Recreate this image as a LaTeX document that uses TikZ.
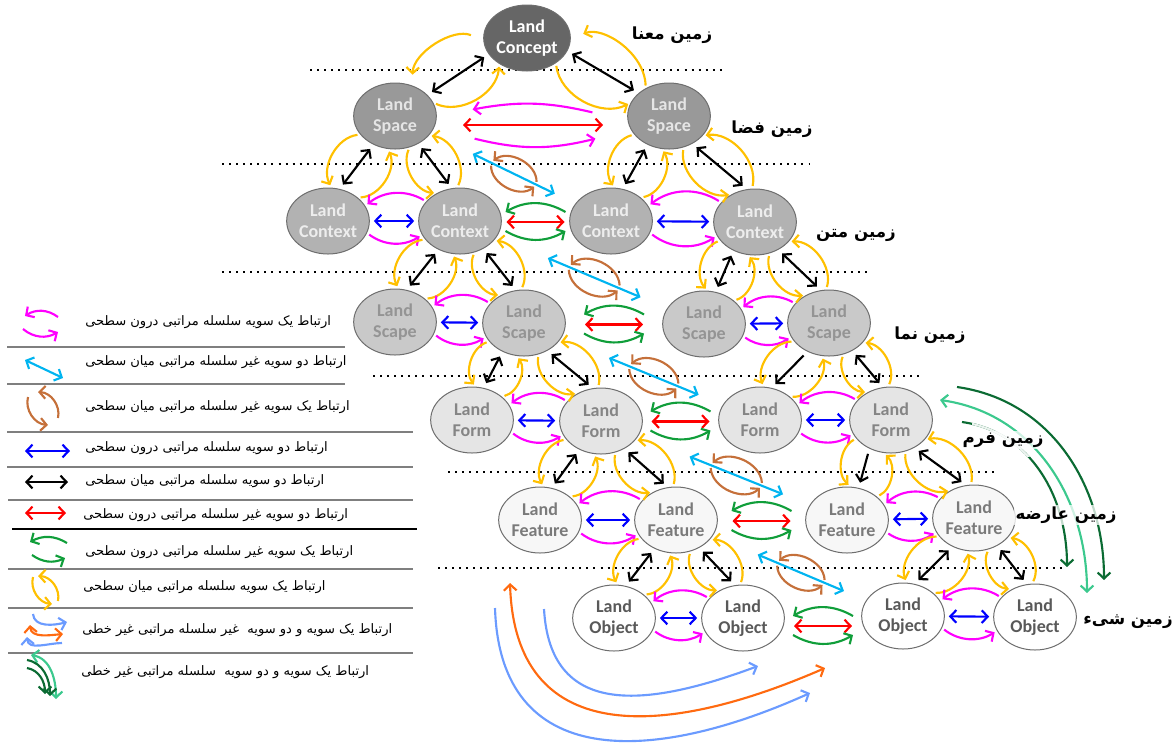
\documentclass[tikz,border=0pt]{standalone}
\usepackage{fontspec}
\setmainfont{Carlito}
\newfontfamily\farsi[Script=Arabic]{DejaVu Sans}
\TeXXeTstate=1
\usetikzlibrary{arrows.meta,calc,positioning,shapes.geometric}

\definecolor{cYel}{HTML}{FFC000}
\definecolor{cMag}{HTML}{FF00FF}
\definecolor{cBlu}{HTML}{0000FF}
\definecolor{cRed}{HTML}{FF0000}
\definecolor{cGrn}{HTML}{109E3A}
\definecolor{cCya}{HTML}{00B4F0}
\definecolor{cBrn}{HTML}{C5703A}
\definecolor{cOrg}{HTML}{FF6A10}
\definecolor{cLbl}{HTML}{6B9BFF}
\definecolor{cDgr}{HTML}{0B6B33}
\definecolor{cLgr}{HTML}{3CC98E}
\definecolor{cBrd}{HTML}{6E6E6E}
\definecolor{cSep}{HTML}{7F7F7F}

\tikzset{
  land/.style={ellipse, draw=cBrd, line width=0.75pt, minimum width=62pt,
    minimum height=49.5pt, inner sep=0pt, align=center,
    font=\fontsize{13.5}{16}\selectfont\bfseries},
  l0/.style={fill=black!60, text=white},
  l1/.style={fill=black!40, text=black!10},
  l2/.style={fill=black!30, text=black!7},
  l3/.style={fill=black!21, text=black!42},
  l4/.style={fill=black!10, text=black!48},
  l5/.style={fill=black!3, text=black!52},
  l6/.style={fill=white, text=black!65},
  lk/.style={line width=1.6pt, >={Straight Barb[length=4.5pt,width=9.5pt]}},
  dbl/.style={<->}, sgl/.style={->},
  leg/.style={shorten >=0pt, shorten <=0pt},
  blk/.style={lk, draw=black, shorten >=4pt, shorten <=4pt},
  ylw/.style={lk, draw=cYel, ->, bend right=55, shorten >=2pt, shorten <=2pt},
  mag/.style={lk, draw=cMag, ->, bend right=35, shorten >=2pt, shorten <=2pt},
  blu/.style={lk, draw=cBlu, <->, shorten >=3pt, shorten <=3pt},
  grn/.style={lk, draw=cGrn, ->, bend right=30},
  rd/.style={lk, draw=cRed, <->},
  cya/.style={lk, draw=cCya, <->},
  brn/.style={lk, draw=cBrn, ->, bend right=65},
  lbl/.style={lk, draw=cLbl, ->},
  org/.style={lk, draw=cOrg, <->},
  dgr/.style={lk, draw=cDgr, ->},
  lgr/.style={lk, draw=cLgr, <->},
  dots/.style={line width=1.5pt, dash pattern=on 1.5pt off 3.8pt},
  sep/.style={draw=cSep, line width=1.1pt},
  legtxt/.style={anchor=west, inner sep=0pt, font=\farsi\fontsize{9.8}{12}\selectfont},
  lvltxt/.style={inner sep=1pt, fill=white, fill opacity=0.75, text opacity=1,
    font=\farsi\bfseries\fontsize{12.5}{14}\selectfont},
}

\begin{document}
\begin{tikzpicture}[x=0.75pt,y=-0.75pt]
\useasboundingbox (0,0) rectangle (1176,744);

% level borders
\draw[dots] (310,70) -- (722,70);
\draw[dots] (222,164) -- (809,164);
\draw[dots] (222,272) -- (867,272);
\draw[dots] (373,376) -- (923,376);
\draw[dots] (448,472) -- (997,472);
\draw[dots] (438,568) -- (1062,568);

\begin{scope}[every node/.style={land}]
  \node[l0] (C) at (527,38) {Land\\Concept};
  \node[l1] (S1) at (395,116) {Land\\Space};
  \node[l1] (S2) at (669,116) {Land\\Space};
  \node[l2] (X1) at (328,221) {Land\\Context};
  \node[l2] (X2) at (460,221) {Land\\Context};
  \node[l2] (X3) at (611,221) {Land\\Context};
  \node[l2] (X4) at (755,222) {Land\\Context};
  \node[l3] (P1) at (395,322) {Land\\Scape};
  \node[l3] (P2) at (524,323) {Land\\Scape};
  \node[l3] (P3) at (704,324) {Land\\Scape};
  \node[l3] (P4) at (829,323) {Land\\Scape};
  \node[l4] (F1) at (472,420) {Land\\Form};
  \node[l4] (F2) at (601,421) {Land\\Form};
  \node[l4] (F3) at (760,420) {Land\\Form};
  \node[l4] (F4) at (891,420) {Land\\Form};
  \node[l5] (E1) at (540,520) {Land\\Feature};
  \node[l5] (E2) at (676,520) {Land\\Feature};
  \node[l5] (E3) at (847,520) {Land\\Feature};
  \node[l5] (E4) at (974,518) {Land\\Feature};
  \node[l6] (O1) at (614,618) {Land\\Object};
  \node[l6] (O2) at (743,618) {Land\\Object};
  \node[l6] (O3) at (903,616) {Land\\Object};
  \node[l6] (O4) at (1035,617) {Land\\Object};
\end{scope}

% concept to space
\path (C.203) edge[blk,dbl] (S1.33)
      (C.183) edge[ylw, shorten <=10pt, shorten >=8pt] (S1.61)
      (S1.19) edge[ylw] (C.223)
      (C.342) edge[blk,dbl] (S2.143)
      (C.319) edge[ylw] (S2.161)
      (S2.130) edge[ylw, shorten >=10pt] (C.359);

% parent to children, siblings
\foreach \p/\l/\r/\bk in {S1/X1/X2/dbl, S2/X3/X4/dbl, X2/P1/P2/dbl, X4/P3/P4/dbl,
    P2/F1/F2/dbl, P4/F3/F4/sgl, F2/E1/E2/dbl, F4/E3/E4/sgl, E2/O1/O2/dbl, E4/O3/O4/dbl}{
  \path (\p.233) edge[blk,\bk] (\l.70)
        (\p.310) edge[blk,dbl] (\r.104)
        (\p.208) edge[ylw] (\l.84)
        (\l.38) edge[ylw] (\p.258)
        (\p.295) edge[ylw] (\r.130)
        (\r.95) edge[ylw] (\p.330);
  \path (\r.150) edge[mag] (\l.22)
        (\l) edge[blu] (\r)
        (\l.343) edge[mag] (\r.200);
}

% between groups
\path ($(S1)!.5!(S2)+(63,-3)$) edge[mag, bend right=12] ($(S1)!.5!(S2)+(-62,-6)$)
      ($(S1)!.5!(S2)+(-69,9)$) edge[rd] ($(S1)!.5!(S2)+(71,9)$)
      ($(S1)!.5!(S2)+(-60,22)$) edge[mag, bend right=14] ($(S1)!.5!(S2)+(66,22)$);
\foreach \a/\b/\dy in {X2/X3/0, P2/P3/0, F2/F3/0, E2/E3/0, O2/O3/8}{
  \path ($(\a)!.5!(\b)+(30,-9+\dy)$) edge[grn] ($(\a)!.5!(\b)+(-30,-9+\dy)$)
        ($(\a)!.5!(\b)+(-29,1+\dy)$) edge[rd] ($(\a)!.5!(\b)+(29,1+\dy)$)
        ($(\a)!.5!(\b)+(-30,10+\dy)$) edge[grn] ($(\a)!.5!(\b)+(30,10+\dy)$);
}

% across groups and levels
\foreach \a/\b in {S1/X3, X2/P3, P2/F3, F2/E3, E2/O3}{
  \path ($(\a)!.36!(\b)$) edge[cya] ($(\a)!.74!(\b)$)
        ($(\a)!.65!(\b)!2pt!90:(\b)$) edge[brn] ($(\a)!.45!(\b)!2pt!90:(\b)$)
        ($(\a)!.45!(\b)!2pt!-90:(\b)$) edge[brn] ($(\a)!.65!(\b)!2pt!-90:(\b)$);
}

% non linear
\coordinate (g1) at (957,387);  \coordinate (g2) at (1104,580);
\coordinate (g3) at (940,400);  \coordinate (g4) at (1087,593);
\coordinate (g5) at (962,422);  \coordinate (g6) at (1067,567);
\path (g1) edge[dgr, out=-8, in=90] (g2)
      (g3) edge[lgr, out=-8, in=90] (g4)
      (g5) edge[dgr, out=-8, in=90] (g6);
\begin{scope}
  \clip (972,400) rectangle (1048,456);
  \path (g5) edge[lk, draw=cDgr!8, out=-8, in=90] (g6);
\end{scope}
\coordinate (b1) at (495,608);  \coordinate (b2) at (810,693);
\coordinate (b3) at (510,583);  \coordinate (b4) at (825,668);
\coordinate (b5) at (544,609);  \coordinate (b6) at (758,666);
\draw[lbl] (b1) .. controls (500,770) and (650,765) .. (b2);
\draw[org] (b3) .. controls (515,745) and (660,740) .. (b4);
\draw[lbl] (b5) .. controls (550,715) and (640,710) .. (b6);

\begin{scope}[every node/.style={lvltxt}]
  \node (lv0) at (672,35) {\beginR زمین معنا\endR};
  \node (lv1) at (772,129) {\beginR زمین فضا\endR};
  \node (lv2) at (856,235) {\beginR زمین متن\endR};
  \node (lv3) at (930,335) {\beginR زمین نما\endR};
  \node (lv4) at (1003,440) {\beginR زمین فرم\endR};
  \node (lv5) at (1066,515) {\beginR زمین عارضه\endR};
  \node (lv6) at (1128,622) {\beginR زمین شیء\endR};
\end{scope}

% legend
\draw[sep] (7,347) -- (345,347);
\draw[sep] (7,384) -- (345,384);
\draw[sep] (7,432) -- (413,432);
\draw[sep] (7,467) -- (413,467);
\draw[sep] (8,500) -- (413,500);
\draw[sep, draw=black] (12,529) -- (417,529);
\draw[sep] (8,569) -- (413,569);
\draw[sep] (8,608) -- (413,608);
\draw[sep] (8,653) -- (413,653);

\path (58,317) edge[mag,leg] (25,316)  (23,329) edge[mag,leg] (58,332);
\path (25,360) edge[cya] (63,378);
\path (58,418) edge[brn, bend right=50] (38,392)  (28,397) edge[brn, bend right=50] (48,425);
\path (25,451) edge[blu,leg] (70,451);
\path (25,482) edge[blk,dbl,leg] (68,482);
\path (25,513) edge[rd] (66,513);
\path (67,543) edge[grn] (30,542)  (32,555) edge[grn] (65,558);
\path (58,601) edge[ylw,leg,bend right=50] (38,576)  (33,577) edge[ylw,leg,bend right=50] (52,604);
\path (33,614) edge[lbl, out=-85, in=195] (67,622)
      (30,625) edge[org, out=-85, in=185] (63,634)
      (27,637) edge[lbl, <-, out=-85, in=180] (62,643);
\path (31,655) edge[lgr, out=-10, in=90] (56,699)
      (27,660) edge[dgr, out=-10, in=90] (50,696)
      (27,668) edge[dgr, out=-10, in=90] (45,694);

\begin{scope}[every node/.style={legtxt}]
  \node (t1) at (85,322) {\beginR ارتباط یک سویه سلسله مراتبی درون سطحی\endR};
  \node (t2) at (85,362) {\beginR ارتباط دو سویه غیر سلسله مراتبی میان سطحی\endR};
  \node (t3) at (85,407) {\beginR ارتباط یک سویه غیر سلسله مراتبی میان سطحی\endR};
  \node (t4) at (85,448) {\beginR ارتباط دو سویه سلسله مراتبی درون سطحی\endR};
  \node (t5) at (85,481) {\beginR ارتباط دو سویه سلسله مراتبی میان سطحی\endR};
  \node (t6) at (83,515) {\beginR ارتباط دو سویه غیر سلسله مراتبی درون سطحی\endR};
  \node (t7) at (85,552) {\beginR ارتباط یک سویه غیر سلسله مراتبی درون سطحی\endR};
  \node (t8) at (83,587) {\beginR ارتباط یک سویه سلسله مراتبی میان سطحی\endR};
  \node (t9) at (82,630) {\beginR ارتباط یک سویه و دو سویه\ \ غیر سلسله مراتبی غیر خطی\endR};
  \node (t10) at (81,672) {\beginR ارتباط یک سویه و دو سویه\ \ سلسله مراتبی غیر خطی\endR};
\end{scope}
\end{tikzpicture}
\end{document}
